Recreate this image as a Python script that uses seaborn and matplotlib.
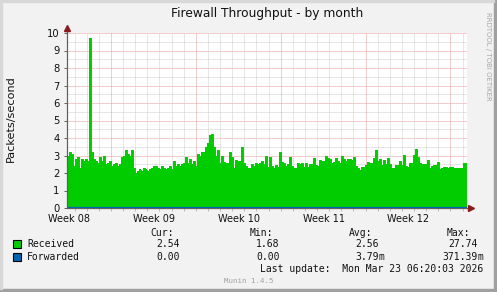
import numpy as np
import pandas as pd
import matplotlib
matplotlib.use("Agg")
import matplotlib.pyplot as plt
import seaborn as sns
from matplotlib.patches import Rectangle

# ---------------- data ----------------
received = [
    3.0, 3.2, 3.1, 2.4, 2.8, 2.9, 2.3, 2.8, 2.7, 2.8,
    2.7, 9.7, 3.2, 2.8, 2.7, 2.6, 2.9, 2.7, 3.0, 2.5,
    2.6, 2.7, 2.4, 2.5, 2.6, 2.4, 2.5, 2.9, 3.0, 3.3,
    3.1, 3.0, 3.3, 2.3, 2.0, 2.1, 2.2, 2.1, 2.3, 2.2,
    2.1, 2.2, 2.3, 2.4, 2.4, 2.3, 2.2, 2.4, 2.3, 2.2,
    2.3, 2.4, 2.2, 2.7, 2.4, 2.5, 2.4, 2.5, 2.6, 2.9,
    2.6, 2.8, 2.5, 2.7, 2.4, 3.1, 3.0, 3.2, 3.2, 3.5,
    3.7, 4.2, 4.25, 3.5, 3.0, 3.3, 2.6, 2.97, 2.65, 2.6,
    2.6, 3.2, 2.9, 2.3, 2.75, 2.7, 2.7, 3.5, 2.6, 2.4,
    2.3, 2.3, 2.5, 2.4, 2.6, 2.5, 2.6, 2.7, 2.5, 3.0,
    2.35, 2.9, 2.4, 2.3, 2.45, 2.35, 3.2, 2.65, 2.6, 2.4,
    2.5, 2.9, 2.4, 2.3, 2.3, 2.6, 2.5, 2.6, 2.35, 2.6,
    2.36, 2.5, 2.5, 2.85, 2.45, 2.4, 2.75, 2.7, 2.7, 3.0,
    2.84, 2.8, 2.6, 2.65, 2.84, 2.7, 2.6, 2.99, 2.8, 2.7,
    2.8, 2.8, 2.75, 2.93, 2.4, 2.3, 2.17, 2.36, 2.36, 2.45,
    2.65, 2.6, 2.55, 2.84, 3.3, 2.7, 2.8, 2.45, 2.74, 2.5,
    2.84, 2.5, 2.3, 2.3, 2.45, 2.45, 2.68, 2.45, 3.03, 2.4,
    2.35, 2.6, 2.6, 3.03, 3.4, 2.9, 2.55, 2.5, 2.5, 2.5,
    2.74, 2.3, 2.4, 2.45, 2.45, 2.65, 2.2, 2.27, 2.36, 2.36,
    2.3, 2.35, 2.36, 2.27, 2.27, 2.3, 2.27, 2.3, 2.6, 2.6,
]
forwarded = [0.0] * len(received)

span_days = 33.0
week_labels = ["Week 08", "Week 09", "Week 10", "Week 11", "Week 12"]
week_label_pos = [0.165, 7.165, 14.165, 21.165, 28.165]
week_major_pos = [3.63, 10.63, 17.63, 24.63, 31.63]
day_minor_pos = [0.63 + k for k in range(33)]

series_names = ["Received", "Forwarded"]
series_colors = ["#00CC00", "#0066B3"]
col_heads = ["Cur:", "Min:", "Avg:", "Max:"]
cur_vals = ["2.54", "0.00"]
min_vals = ["1.68", "0.00"]
avg_vals = ["2.56", "3.79m"]
max_vals = ["27.74", "371.39m"]

title = "Firewall Throughput - by month"
ylabel = "Packets/second"
last_update = "Last update:  Mon Mar 23 06:20:03 2026"

# ---------------- figure ----------------
sns.set_style("white")
plt.rcParams["font.family"] = ["DejaVu Sans"]

W, H = 497, 292
BG = "#F2F2F2"
fig = plt.figure(figsize=(W / 100, H / 100), dpi=100, facecolor=BG)

def fx(px):
    return px / W

def fy(py):
    return 1 - py / H

# border shading
fig.patches.append(Rectangle((0, 0), 1, fy(289), transform=fig.transFigure, color="#A0A0A0", zorder=0))
fig.patches.append(Rectangle((fx(494), 0), 1 - fx(494), 1, transform=fig.transFigure, color="#A0A0A0", zorder=0))
fig.patches.append(Rectangle((0, fy(2)), fx(494), 1 - fy(2), transform=fig.transFigure, color="#D8D8D8", zorder=0))
fig.patches.append(Rectangle((0, fy(289)), fx(2), fy(2) - fy(289), transform=fig.transFigure, color="#D8D8D8", zorder=0))

ax = fig.add_axes([fx(67), fy(208), 400 / W, 175 / H])
ax.set_facecolor("white")

n = len(received)
step = span_days / n
df = pd.DataFrame({
    "day": [i * step for i in range(n)] + [span_days],
    "Received": received + [received[-1]],
    "Forwarded": forwarded + [forwarded[-1]],
})

ax.fill_between(df["day"], df["Received"], step="post", color=series_colors[0], lw=0, zorder=2)
sns.lineplot(data=df, x="day", y="Received", drawstyle="steps-post", color=series_colors[0],
             lw=0.7, ax=ax, zorder=3)
sns.lineplot(data=df, x="day", y="Forwarded", drawstyle="steps-post", color=series_colors[1],
             lw=1.6, ax=ax, zorder=5)

ax.set_xlim(0, span_days)
ax.set_ylim(0, 10)

# grid (dotted)
minor_c = "#CFCFCF"
major_c = "#E89A9A"
dot = (0, (1, 1))
for v in np.arange(0.5, 10, 1.0):
    ax.axhline(v, color=minor_c, lw=0.72, ls=dot, zorder=1)
for v in range(1, 11):
    ax.axhline(v, color=major_c, lw=0.72, ls=dot, zorder=1)
for v in day_minor_pos:
    if min(abs(v - m) for m in week_major_pos) > 0.01:
        ax.axvline(v, color=minor_c, lw=0.72, ls=dot, zorder=1)
for v in week_major_pos:
    ax.axvline(v, color=major_c, lw=0.72, ls=dot, zorder=1)

for s in ax.spines.values():
    s.set_visible(False)

# axis lines with arrows
ax.plot([0, 0], [0, 10.25], color="#606060", lw=0.9, clip_on=False, zorder=6)
ax.plot([0, 33.3], [0, 0], color="#606060", lw=0.9, clip_on=False, zorder=4)
ax.plot([0], [10.28], marker="^", color="#8B1A1A", ms=4, clip_on=False, zorder=7)
ax.plot([33.35], [0], marker=">", color="#8B1A1A", ms=4, clip_on=False, zorder=7)

# ticks
ax.set_yticks(range(0, 11))
ax.set_yticklabels([str(v) for v in range(0, 11)])
ax.tick_params(axis="y", which="major", left=True, length=2.5, width=0.7, color="#606060",
               pad=3, labelsize=7.2, labelcolor="#111111")
ax.set_xticks(week_label_pos)
ax.set_xticklabels(week_labels)
ax.tick_params(axis="x", which="major", length=0, pad=4.5, labelsize=7, labelcolor="#111111")
ax.set_xticks(day_minor_pos, minor=True)
ax.tick_params(axis="x", which="minor", bottom=True, length=2, width=0.7, color="#BBBBBB")
for t, v in zip(ax.xaxis.get_minor_ticks(), day_minor_pos):
    if min(abs(v - m) for m in week_major_pos) < 0.01:
        t.tick1line.set_color("#E06060")
ax.set_xlabel("")
ax.set_ylabel("")

# texts
fig.text(fx(267), fy(13), title, ha="center", va="center", fontsize=8.8, color="#111111")
fig.text(fx(11), fy(119), ylabel, ha="center", va="center", rotation=90, fontsize=8.1, color="#111111")
fig.text(fx(488), fy(56), "RRDTOOL / TOBI OETIKER", ha="center", va="center", rotation=270,
         fontsize=5.0, color="#A8A8A8")

mono = "DejaVu Sans Mono"
fs = 7
head_x = [150, 249.7, 348.7, 446.7]
for hx, h in zip(head_x, col_heads):
    fig.text(fx(hx), fy(233.3), h, ha="left", va="center", fontsize=fs, family=mono, color="#111111")

row_y = [244.3, 256.5]
val_right = [179.5, 279.5, 378.5, 477.5]
for r, name in enumerate(series_names):
    y = row_y[r]
    fig.patches.append(Rectangle((fx(13), fy(y + 4)), 8 / W, 8 / H, transform=fig.transFigure,
                                 facecolor=series_colors[r], edgecolor="black", lw=0.8, zorder=3))
    fig.text(fx(27), fy(y), name, ha="left", va="center", fontsize=fs, family=mono, color="#111111")
    for c, vals in enumerate([cur_vals, min_vals, avg_vals, max_vals]):
        v = vals[r]
        num = v.rstrip("m")
        suffix = v[len(num):]
        fig.text(fx(val_right[c]), fy(y), num, ha="right", va="center", fontsize=fs, family=mono,
                 color="#111111")
        if suffix:
            fig.text(fx(val_right[c]), fy(y), suffix, ha="left", va="center", fontsize=fs,
                     family=mono, color="#111111")

fig.text(fx(483), fy(268.7), last_update, ha="right", va="center", fontsize=fs, family=mono, color="#111111")
fig.text(fx(248.5), fy(281), "Munin 1.4.5", ha="center", va="center", fontsize=5.3, family=mono, color="#A0A0A0")

fig.savefig("out.png", dpi=100, facecolor=BG)
